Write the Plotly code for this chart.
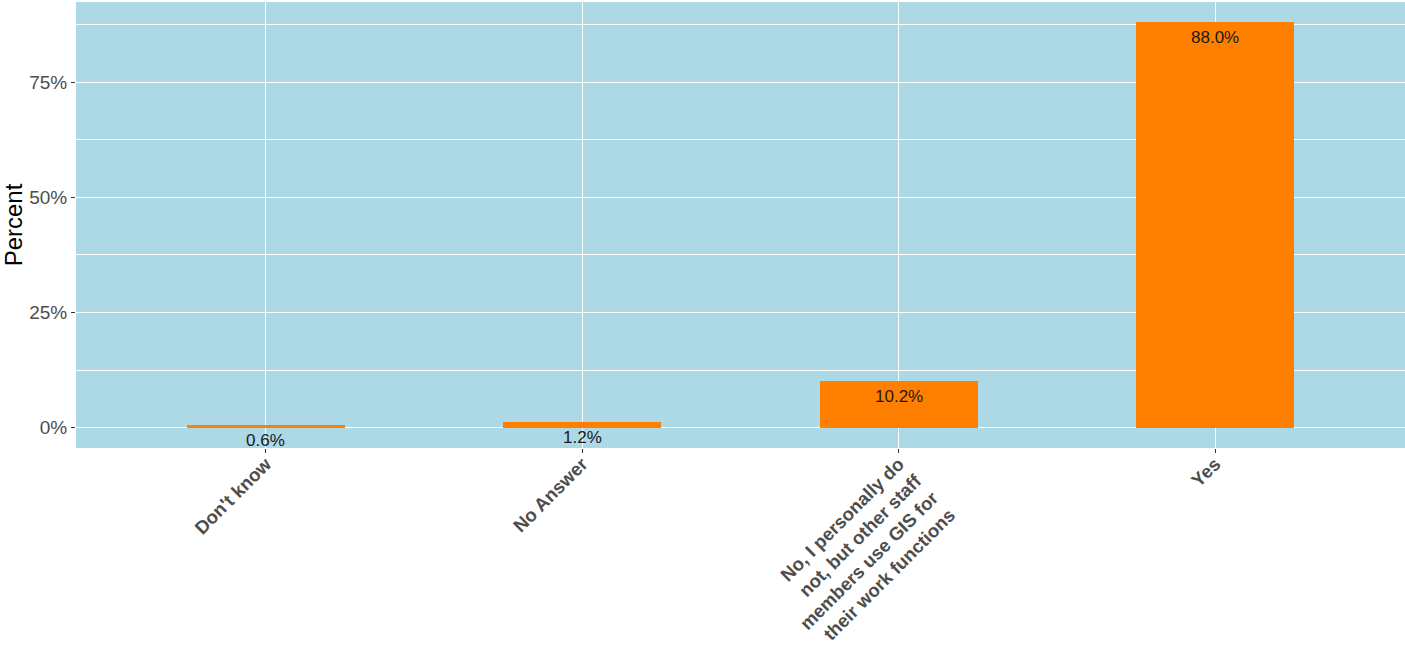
import plotly.graph_objects as go

categories = ["Don't know", "No Answer",
              "No, I personally do<br>not, but other staff<br>members use GIS for<br>their work functions",
              "Yes"]
values = [0.006, 0.012, 0.102, 0.880]
labels = ["0.6%", "1.2%", "10.2%", "88.0%"]
y_ticks = [0, 0.25, 0.5, 0.75]
y_tick_text = ["0%", "25%", "50%", "75%"]

FONT = "Liberation Sans, Arial, sans-serif"

fig = go.Figure()
fig.add_trace(go.Bar(x=categories, y=values, width=0.5,
                     marker=dict(color="#FF7F00", line=dict(width=0)),
                     hoverinfo="skip"))

for c, v, t in zip(categories, values, labels):
    fig.add_annotation(x=c, y=v, text=t, showarrow=False, xref="x", yref="y",
                       yanchor="top", yshift=-4,
                       font=dict(family=FONT, size=17, color="#1a1a1a"))

fig.update_layout(
    width=1405, height=654,
    margin=dict(l=76, r=0, t=2, b=206),
    paper_bgcolor="white",
    plot_bgcolor="#ADD8E6",
    showlegend=False,
    bargap=0,
    font=dict(family=FONT),
)
fig.update_xaxes(
    range=[-0.6, 3.6],
    automargin=False,
    tickangle=-45,
    ticklabelstandoff=-7,
    tickfont=dict(family=FONT, size=18.5, color="#4D4D4D", weight="bold"),
    showgrid=True, gridcolor="white", gridwidth=1.4,
    ticks="outside", ticklen=4, tickcolor="#333333",
    showline=False, zeroline=False,
)
fig.update_yaxes(
    range=[-0.044, 0.924],
    automargin=False,
    tickvals=y_ticks, ticktext=y_tick_text,
    tickfont=dict(family=FONT, size=19, color="#4D4D4D"),
    title=dict(text="Percent", font=dict(family=FONT, size=24, color="black"), standoff=8),
    showgrid=True, gridcolor="white", gridwidth=1.4,
    minor=dict(tickvals=[0.125, 0.375, 0.625, 0.875], showgrid=True,
               gridcolor="white", gridwidth=0.7, ticks=""),
    ticks="outside", ticklen=4, tickcolor="#333333",
    showline=False, zeroline=False,
)

fig.write_html("out.html", config={"displayModeBar": False},
               post_script="document.body.style.margin='0';")
